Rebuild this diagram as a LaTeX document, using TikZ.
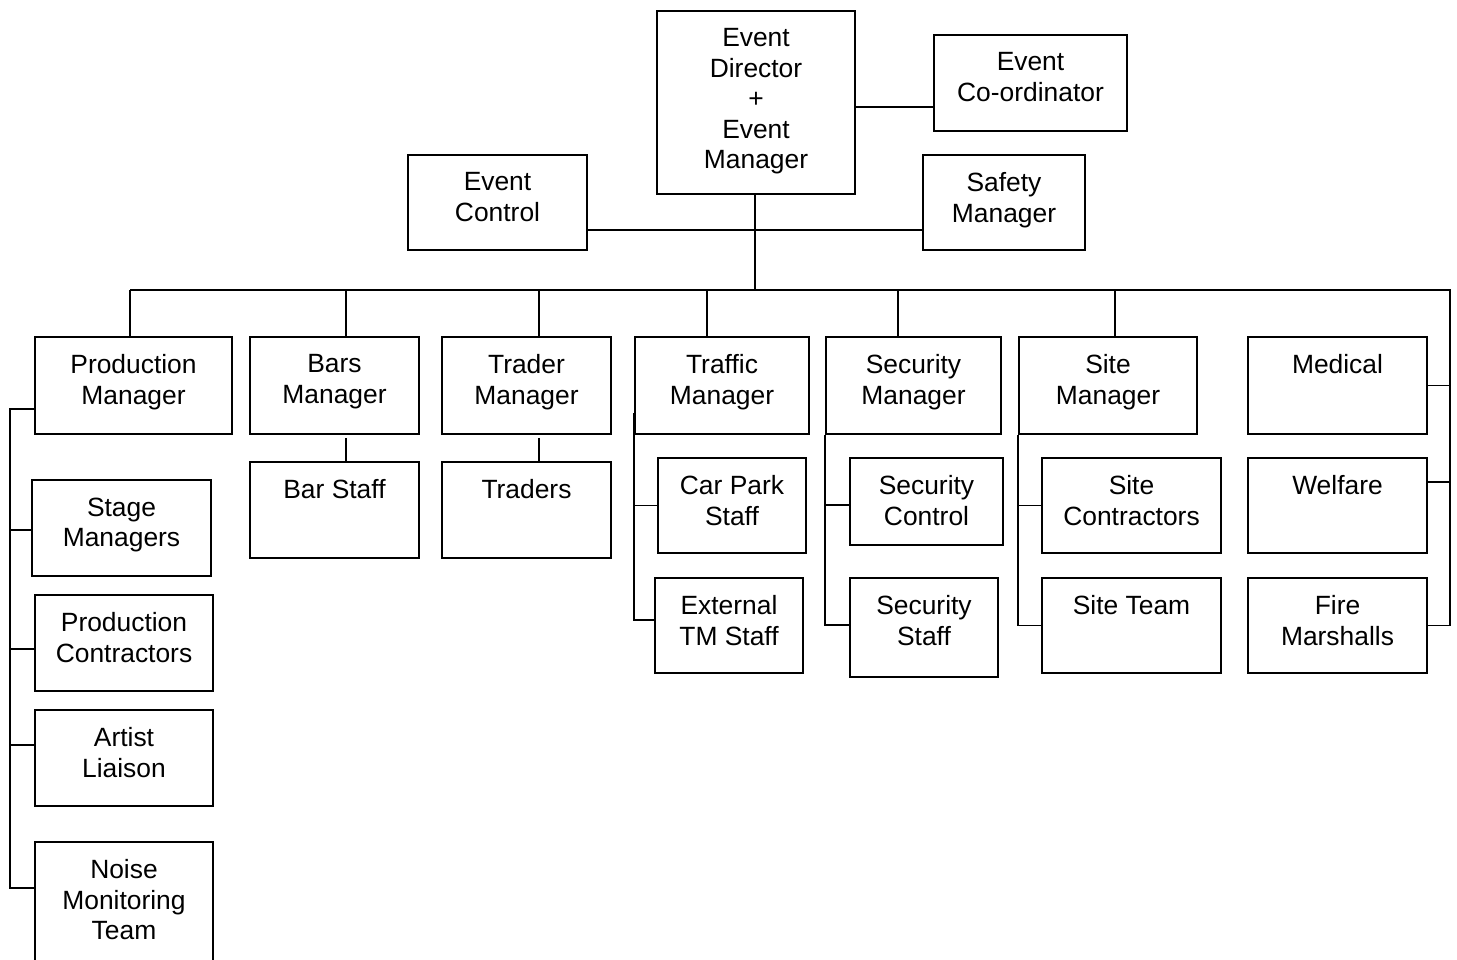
\documentclass[tikz,border=0pt]{standalone}
\usepackage{fontspec}
\setmainfont{Liberation Sans}
\begin{document}
\begin{tikzpicture}[x=1pt,y=-1pt,
 box/.style={draw, line width=1.9pt, inner sep=0pt},
 txt/.style={inner sep=0pt, align=center, font=\fontsize{26.4}{30.5}\selectfont},
 conn/.style={line width=1.9pt}]
\useasboundingbox (0,0) rectangle (1457,959);
\newcommand{\mkbox}[6]{%
  \node[box, minimum width={#4-#2}, minimum height={#5-#3}] (#1) at ({(#2+#4)/2},{(#3+#5)/2}) {};
  \node[txt, anchor=north] (#1t) at ([yshift=-18.5pt]#1.north) {#6};}
% top
\mkbox{dir}{657}{11}{855}{194}{Event\\Director\\+\\Event\\Manager}
\mkbox{coord}{934}{35}{1127}{131}{Event\\Co-ordinator}
\mkbox{ctrl}{408}{155}{587}{250}{Event\\Control}
\mkbox{safe}{923}{155}{1085}{250}{Safety\\Manager}
% row 1
\mkbox{pm}{35}{337}{232}{434}{Production\\Manager}
\mkbox{bars}{250}{337}{419}{434}{Bars\\Manager}
\mkbox{trdm}{442}{337}{611}{434}{Trader\\Manager}
\mkbox{trfm}{635}{337}{809}{434}{Traffic\\Manager}
\mkbox{secm}{826}{337}{1001}{434}{Security\\Manager}
\mkbox{sitem}{1019}{337}{1197}{434}{Site\\Manager}
\mkbox{med}{1248}{337}{1427}{434}{Medical}
% lower
\mkbox{bstaff}{250}{462}{419}{558}{Bar Staff}
\mkbox{traders}{442}{462}{611}{558}{Traders}
\mkbox{carpark}{658}{458}{806}{553}{Car Park\\Staff}
\mkbox{extm}{655}{578}{803}{673}{External\\TM Staff}
\mkbox{secc}{850}{458}{1003}{545}{Security\\Control}
\mkbox{secs}{850}{578}{998}{677}{Security\\Staff}
\mkbox{sitec}{1042}{458}{1221}{553}{Site\\Contractors}
\mkbox{sitet}{1042}{578}{1221}{673}{Site Team}
\mkbox{welf}{1248}{458}{1427}{553}{Welfare}
\mkbox{fire}{1248}{578}{1427}{673}{Fire\\Marshalls}
\mkbox{stage}{32}{480}{211}{576}{Stage\\Managers}
\mkbox{prodc}{35}{595}{213}{691}{Production\\Contractors}
\mkbox{artist}{35}{710}{213}{806}{Artist\\Liaison}
\mkbox{noise}{35}{842}{213}{962}{Noise\\Monitoring\\Team}
% top connectors
\draw[conn] ([yshift=-4.5pt]dir.east) -- ([yshift=-4.5pt]dir.east -| coord.west);
\draw[conn] ([yshift=-27.5pt]ctrl.east) -- ([yshift=-27.5pt]ctrl.east -| safe.west);
\coordinate (bus) at (755,290);
\coordinate (busR) at (1450,290);
\draw[conn] ([xshift=-1pt]dir.south) -- ([xshift=-1pt]dir.south |- bus);
\coordinate (pmd) at ([xshift=-3.5pt]pm.north);
\draw[conn] (pmd |- bus) -- (busR) -- (busR |- fire.east) -- (fire.east);
\draw[conn] (pmd) -- (pmd |- bus);
\draw[conn] ([xshift=11.5pt]bars.north) -- ([xshift=11.5pt]bars.north |- bus);
\draw[conn] ([xshift=12.5pt]trdm.north) -- ([xshift=12.5pt]trdm.north |- bus);
\draw[conn] ([xshift=-15pt]trfm.north) -- ([xshift=-15pt]trfm.north |- bus);
\draw[conn] ([xshift=-15.5pt]secm.north) -- ([xshift=-15.5pt]secm.north |- bus);
\draw[conn] ([xshift=7pt]sitem.north) -- ([xshift=7pt]sitem.north |- bus);
% right column
\draw[conn] (med.east) -- (busR |- med.east);
\coordinate (wb) at ([yshift=23.5pt]welf.east);
\draw[conn] (wb) -- (busR |- wb);
% bars / traders
\draw[conn] ([xshift=11.5pt,yshift=-3pt]bars.south) -- ([xshift=11.5pt]bstaff.north);
\draw[conn] ([xshift=12.5pt,yshift=-3pt]trdm.south) -- ([xshift=12.5pt]traders.north);
% traffic
\coordinate (exb) at ([yshift=5.5pt]extm.west);
\draw[conn] ([yshift=-27.5pt]trfm.west) -- (trfm.west |- exb) -- (exb);
\draw[conn] (trfm.west |- carpark.west) -- (carpark.west);
% security
\coordinate (scb) at ([yshift=-3.5pt]secc.west);
\coordinate (ssb) at ([yshift=2.5pt]secs.west);
\draw[conn] (secm.south west) -- (secm.south west |- ssb) -- (ssb);
\draw[conn] (secm.west |- scb) -- (scb);
% site
\draw[conn] (sitem.south west) -- (sitem.south west |- sitet.west) -- (sitet.west);
\draw[conn] (sitem.west |- sitec.west) -- (sitec.west);
% production
\coordinate (pmb) at ([yshift=-23.5pt]pm.west);
\coordinate (stb) at ([yshift=-2pt]stage.west);
\coordinate (pcb) at ([yshift=-6pt]prodc.west);
\coordinate (arb) at ([yshift=13pt]artist.west);
\coordinate (nob) at ([yshift=14pt]noise.west);
\draw[conn] (pmb) -- ++(-24,0) coordinate (pv) -- (pv |- nob) -- (nob);
\draw[conn] (pv |- stb) -- (stb);
\draw[conn] (pv |- pcb) -- (pcb);
\draw[conn] (pv |- arb) -- (arb);
\end{tikzpicture}
\end{document}
